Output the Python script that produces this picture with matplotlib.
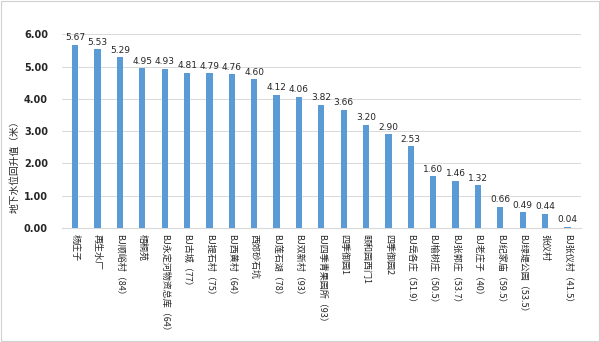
import numpy as np
import matplotlib
matplotlib.use('Agg')
import matplotlib.pyplot as plt

plt.rcParams['font.family'] = ['Noto Sans CJK SC', 'DejaVu Sans']

# site names and groundwater level rise (m)
sites = ['杨庄子', '再生水厂', 'BJ顺峪村（84）', '梧桐苑', 'BJ永定河物资总库（64）',
         'BJ古城（77）', 'BJ提石村（75）', 'BJ西黄村（64）', '西郊砂石坑', 'BJ莲石湖（78）',
         'BJ双新村（93）', 'BJ四季青果园所（93）', '四季御园1', '颐和园西门1', '四季御园2',
         'BJ岳各庄（51.9）', 'BJ榆树庄（50.5）', 'BJ张郭庄（53.7）', 'BJ老庄子（40）',
         'BJ纪家庙（59.5）', 'BJ绿堤公园（53.5）', '张仪村', 'BJ张仪村（41.5）']
rise = [5.67, 5.53, 5.29, 4.95, 4.93, 4.81, 4.79, 4.76, 4.60, 4.12, 4.06, 3.82,
        3.66, 3.20, 2.90, 2.53, 1.60, 1.46, 1.32, 0.66, 0.49, 0.44, 0.04]
yticks = [0, 1, 2, 3, 4, 5, 6]

fig = plt.figure(figsize=(6, 3.42), dpi=100)
ax = fig.add_axes([0.103, 0.333, 0.865, 0.567])

x = np.arange(len(sites))
ax.bar(x, rise, width=0.28, color='#5B9BD5', zorder=3)
for xi, v in zip(x, rise):
    ax.text(xi, v + 0.08, '%.2f' % v, ha='center', va='bottom', fontsize=6.5,
            color='#262626', family='DejaVu Sans')

ax.set_xlim(-0.6, len(sites) - 0.4)
ax.set_ylim(0, 6)
ax.set_yticks(yticks)
ax.set_yticklabels(['%.2f' % t for t in yticks], fontsize=7, color='#262626',
                   family='DejaVu Sans', fontweight='bold')
ax.yaxis.grid(True, color='#D9D9D9', linewidth=0.7, zorder=0)
ax.set_xticks(x)
ax.set_xticklabels(sites, rotation=-90, fontsize=6.5, color='#262626', va='top', ha='center')
ax.tick_params(axis='both', length=0, pad=4)
ax.tick_params(axis='y', pad=10)
for s in ['top', 'right', 'left']:
    ax.spines[s].set_visible(False)
ax.spines['bottom'].set_color('#D9D9D9')
ax.set_ylabel('地下水位回升值（米）', fontsize=7, color='#262626')
ax.yaxis.set_label_coords(-0.082, 0.33)

fig.patches.append(plt.Rectangle((0.002, 0.003), 0.996, 0.994, transform=fig.transFigure,
                                 fill=False, edgecolor='#D0D0D0', linewidth=0.8))
fig.savefig('out.png', dpi=100)
